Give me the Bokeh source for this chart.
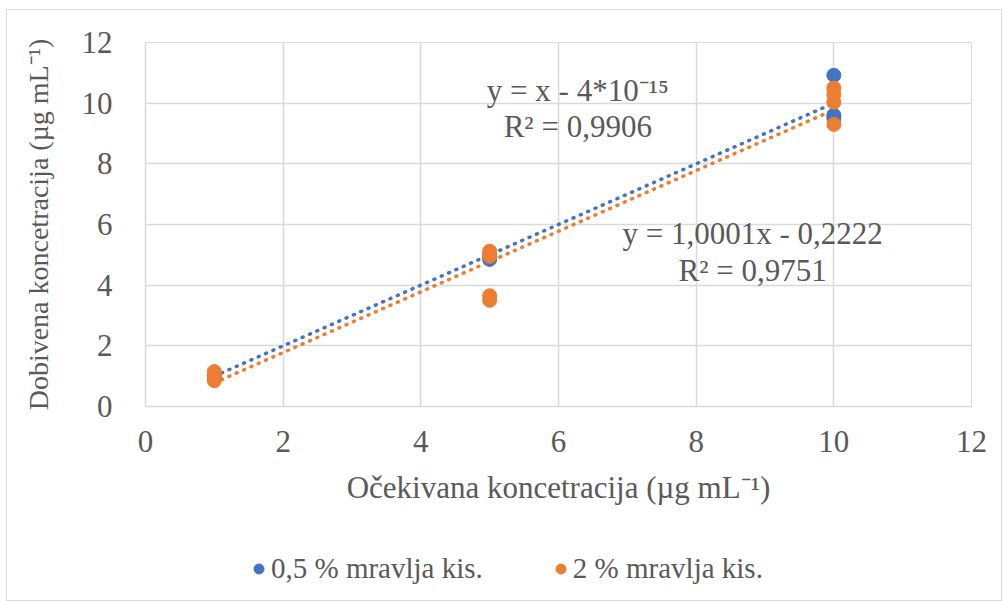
from bokeh.plotting import figure
from bokeh.layouts import column
from bokeh.models import Legend, LegendItem, Label, FixedTicker
from bokeh.embed import file_html
from bokeh.resources import INLINE

# ---- data ----
x_a = [1, 1, 1, 5, 5, 5, 10, 10, 10]
y_a = [1.0, 0.95, 1.05, 4.85, 4.9, 5.0, 10.92, 9.6, 9.5]
x_b = [1, 1, 1, 5, 5, 5, 5, 10, 10, 10, 10]
y_b = [1.15, 1.0, 0.85, 5.12, 4.95, 3.65, 3.5, 10.5, 10.28, 10.03, 9.3]
series_names = ["0,5 % mravlja kis.", "2 % mravlja kis."]
fit_slope = [1.0, 1.0001]
fit_intercept = [-4e-15, -0.2222]
fit_x = [1, 10]
eq_text = [["y = x - 4*10\u207b\u00b9\u2075", "R\u00b2 = 0,9906"],
           ["y = 1,0001x - 0,2222", "R\u00b2 = 0,9751"]]
eq_pos = [[(6.28, 10.42), (6.28, 9.24)], [(8.82, 5.7), (8.82, 4.5)]]
x_ticks = [0, 2, 4, 6, 8, 10, 12]
y_ticks = [0, 2, 4, 6, 8, 10, 12]
x_title = "O\u010dekivana koncetracija (\u00b5g mL\u207b\u00b9)"
y_title = "Dobivena koncetracija (\u00b5g mL\u207b\u00b9)"

colors = ["#4472C4", "#ED7D31"]
FONT = "Liberation Serif"
TXT = "#595959"
GRID = "#D9D9D9"
HFS = "31px"

p = figure(width=994, height=520, x_range=(0, 12), y_range=(0, 12),
           output_backend="svg", toolbar_location=None,
           min_border_left=138, min_border_right=30,
           min_border_top=32, min_border_bottom=124)
p.outline_line_color = GRID
p.xgrid.ticker = FixedTicker(ticks=x_ticks)
p.ygrid.ticker = FixedTicker(ticks=y_ticks)
p.xaxis.ticker = FixedTicker(ticks=x_ticks)
p.yaxis.ticker = FixedTicker(ticks=y_ticks)
for g in (p.xgrid, p.ygrid):
    g.grid_line_color = GRID
    g.grid_line_width = 1.5
for ax in (p.xaxis, p.yaxis):
    ax.axis_line_color = GRID
    ax.axis_line_width = 1.5
    ax.major_tick_line_color = None
    ax.minor_tick_line_color = None
    ax.major_label_text_font = FONT
    ax.major_label_text_font_size = HFS
    ax.major_label_text_color = TXT
    ax.axis_label_text_font = FONT
    ax.axis_label_text_font_style = "normal"
    ax.axis_label_text_color = TXT
p.xaxis.axis_label_text_font_size = HFS
p.yaxis.axis_label_text_font_size = "28px"
p.xaxis.axis_label = x_title
p.yaxis.axis_label = y_title
p.xaxis.major_label_standoff = 18
p.yaxis.major_label_standoff = 27
p.xaxis.axis_label_standoff = 15
p.yaxis.axis_label_standoff = 25

# trendlines
for i in range(2):
    ys = [fit_slope[i] * xx + fit_intercept[i] for xx in fit_x]
    p.line(fit_x, ys, line_color=colors[i], line_width=3.5,
           line_dash="1 7", line_cap="round")

p.scatter(x_a, y_a, size=14, fill_color=colors[0], line_color=colors[0])
p.scatter(x_b, y_b, size=14, fill_color=colors[1], line_color=colors[1])

for i in range(2):
    for j in range(2):
        p.add_layout(Label(x=eq_pos[i][j][0], y=eq_pos[i][j][1], text=eq_text[i][j],
                           text_font=FONT, text_font_size=HFS, text_color=TXT,
                           text_align="center", text_baseline="middle"))

# legend strip (frame is aligned with the main plot's frame by the column layout)
lg = figure(width=994, height=70, x_range=(0, 1), y_range=(0, 1),
            output_backend="svg", toolbar_location=None,
            x_axis_type=None, y_axis_type=None,
            min_border=0, outline_line_color=None)
lg.grid.visible = False
la = lg.scatter(x_a, y_a, size=11, fill_color=colors[0], line_color=colors[0], visible=False)
lb = lg.scatter(x_b, y_b, size=11, fill_color=colors[1], line_color=colors[1], visible=False)
legend = Legend(items=[LegendItem(label=series_names[0], renderers=[la]),
                       LegendItem(label=series_names[1], renderers=[lb])],
                orientation="horizontal", location=(101, 15),
                label_text_font=FONT, label_text_font_size="29px",
                label_text_color=TXT, glyph_width=25, glyph_height=25,
                label_standoff=0, spacing=65, padding=0, margin=0,
                inactive_fill_alpha=0,
                border_line_color=None, background_fill_alpha=0)
lg.add_layout(legend)

layout = column(p, lg, spacing=0)
layout.styles = {"border": "1px solid #D9D9D9", "margin-left": "6px", "margin-top": "9px"}

open("out.html", "w").write(file_html(layout, INLINE))
